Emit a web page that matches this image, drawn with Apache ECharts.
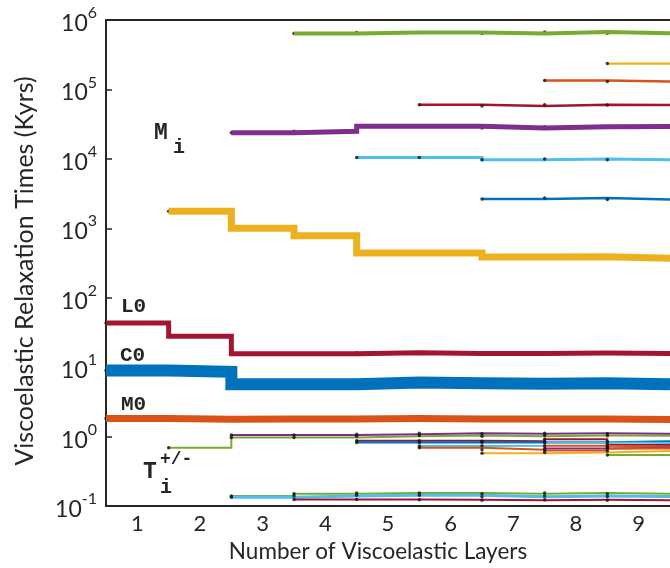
<!DOCTYPE html>
<html>
<head>
<meta charset="utf-8">
<script src="https://cdn.jsdelivr.net/npm/echarts@6/dist/echarts.min.js"></script>
<style>
html,body{margin:0;padding:0;background:#fff;}
#main{width:670px;height:568px;}
</style>
</head>
<body>
<div id="main"></div>
<script>
// ---------------- DATA ----------------
const xTicks = [1, 2, 3, 4, 5, 6, 7, 8, 9];
const yTicks = [0.1, 1, 10, 100, 1000, 10000, 100000, 1000000];

// values per number of layers, starting at the given layer
const L0_start = 1;  const L0  = [43.5, 28, 15.6, 15.6, 16.2, 15.8, 15.8, 16.0, 15.8];
const C0_start = 1;  const C0  = [9.0, 8.6, 5.7, 5.7, 6.0, 5.9, 5.8, 5.9, 5.7];
const M0_start = 1;  const M0  = [1.82, 1.78, 1.80, 1.80, 1.82, 1.80, 1.80, 1.79, 1.76];

const Mi1_start = 2; const Mi1 = [1760, 1000, 780, 440, 440, 385, 390, 370];
const Mi2_start = 3; const Mi2 = [23800, 25000, 29400, 29400, 27900, 29000, 29200];
const Mi3_start = 4; const Mi3 = [637000, 658000, 658000, 637000, 673000, 644000];
const Mi4_start = 5; const Mi4 = [10470, 10470, 9700, 10000, 9700];
const Mi5_start = 6; const Mi5 = [60300, 57800, 60300, 59700];
const Mi6_start = 7; const Mi6 = [2640, 2730, 2600];
const Mi7_start = 8; const Mi7 = [134600, 130000];
const Mi8_start = 9; const Mi8 = [236000];

const T1_start = 2;  const T1  = [0.69, 0.975, 0.975, 1.01, 1.04, 1.01, 1.04, 1.03];
const T2_start = 3;  const T2  = [1.06, 1.06, 1.08, 1.12, 1.10, 1.12, 1.10];
const T3_start = 5;  const T3  = [0.873, 0.873, 0.86, 0.92, 0.76];
const T4_start = 5;  const T4  = [0.826, 0.826, 0.83, 0.83, 0.853];
const T5_start = 6;  const T5  = [0.731, 0.741, 0.826, 0.807];
const T6_start = 6;  const T6  = [0.693, 0.649, 0.741, 0.723];
const T7_start = 7;  const T7  = [0.579, 0.593, 0.62];
const T8_start = 8;  const T8  = [0.678, 0.69];
const T9_start = 8;  const T9  = [0.634, 0.678];
const T10_start = 9; const T10 = [0.543];

const B1_start = 3;  const B1  = [0.140, 0.150, 0.155, 0.155, 0.150, 0.155, 0.150];
const B2_start = 3;  const B2  = [0.134, 0.140, 0.143, 0.143, 0.136, 0.140, 0.138];
const B3_start = 4;  const B3  = [0.1245, 0.1245, 0.123, 0.121, 0.1235, 0.121];

// ---------------- STYLE ----------------
const COL = {blue:'#0072BD', orange:'#D95319', yellow:'#EDB120', purple:'#7E2F8E',
             green:'#77AC30', cyan:'#4DBEEE', crimson:'#A2142F'};
const TXT = '#262626';

// [start, values, color, width, thick]
const lines = [
  [T1_start, T1, COL.green, 2, false],
  [T2_start, T2, COL.purple, 2, false],
  [T3_start, T3, COL.crimson, 2, false],
  [T4_start, T4, COL.blue, 2.2, false],
  [T5_start, T5, COL.cyan, 2, false],
  [T6_start, T6, COL.orange, 2, false],
  [T7_start, T7, COL.yellow, 2, false],
  [T8_start, T8, COL.purple, 2, false],
  [T9_start, T9, COL.orange, 2, false],
  [T10_start, T10, COL.green, 2, false],
  [B1_start, B1, COL.green, 2, false],
  [B2_start, B2, COL.cyan, 3, false],
  [B3_start, B3, COL.crimson, 2, false],
  [Mi4_start, Mi4, COL.cyan, 3, false],
  [Mi5_start, Mi5, COL.crimson, 2.5, false],
  [Mi6_start, Mi6, COL.blue, 2.5, false],
  [Mi7_start, Mi7, COL.orange, 2.5, false],
  [Mi8_start, Mi8, COL.yellow, 2.2, false],
  [Mi3_start, Mi3, COL.green, 4, true],
  [Mi2_start, Mi2, COL.purple, 5, true],
  [Mi1_start, Mi1, COL.yellow, 7, true],
  [L0_start, L0, COL.crimson, 5, true],
  [M0_start, M0, COL.orange, 7, true],
  [C0_start, C0, COL.blue, 12, true]
];

// each layer value spans from (layer - 0.5) to (layer + 0.5)
function stepData(start, vals) {
  const pts = [];
  vals.forEach((v, i) => {
    const layer = start + i;
    pts.push([layer - 0.5, v], [layer + 0.5, v]);
  });
  return pts;
}

const series = [];
const dots = [];
lines.forEach((l) => {
  const [start, vals, color, width, thick] = l;
  series.push({
    type: 'line', data: stepData(start, vals),
    showSymbol: false, symbol: 'none', silent: true, animation: false,
    z: thick ? 4 : 2, smooth: false,
    lineStyle: {color: color, width: width, cap: 'butt', join: 'miter', miterLimit: 20}
  });
  vals.forEach((v, i) => dots.push([start + i - 0.5, v]));
});
series.push({
  type: 'scatter', data: dots, symbol: 'circle', symbolSize: 3.5,
  itemStyle: {color: '#111'}, z: 3, silent: true, animation: false
});

const FONT = 'Lato';
const MONO = '"Liberation Mono", "DejaVu Sans Mono", monospace';

const chart = echarts.init(document.getElementById('main'), null, {renderer: 'canvas'});
chart.setOption({
  backgroundColor: '#fff',
  animation: false,
  grid: {left: 106, right: 0, top: 20, bottom: 60, containLabel: false},
  xAxis: [{
    type: 'value', min: 0.5, max: 9.5, minInterval: 1, maxInterval: 1,
    name: 'Number of Viscoelastic Layers', nameLocation: 'middle', nameGap: 27,
    nameTextStyle: {fontFamily: FONT, fontSize: 22.5, color: TXT, padding: [0, 20, 0, 0]},
    axisLine: {show: true, onZero: false, lineStyle: {color: TXT, width: 2}},
    axisTick: {show: false},
    axisLabel: {fontFamily: FONT, fontSize: 22, color: TXT, margin: 7,
                showMinLabel: false, showMaxLabel: false,
                formatter: v => (xTicks.indexOf(Math.round(v)) >= 0 && Math.abs(v - Math.round(v)) < 1e-6) ? String(Math.round(v)) : ''},
    splitLine: {show: false}
  }, {
    type: 'value', position: 'top', min: 0.5, max: 9.5,
    axisLine: {show: true, onZero: false, lineStyle: {color: TXT, width: 2}},
    axisTick: {show: false}, axisLabel: {show: false}, splitLine: {show: false}
  }],
  yAxis: {
    type: 'log', logBase: 10, min: yTicks[0], max: yTicks[yTicks.length - 1],
    axisLine: {show: true, onZero: false, lineStyle: {color: TXT, width: 2}},
    axisTick: {show: true, inside: true, length: 6, lineStyle: {color: TXT, width: 1.5}},
    minorTick: {show: false},
    splitLine: {show: false},
    axisLabel: {
      margin: 9, color: TXT,
      formatter: v => '{b|10}{s|' + Math.round(Math.log10(v)) + '}',
      rich: {
        b: {fontFamily: FONT, fontSize: 23, color: TXT, lineHeight: 30, verticalAlign: 'bottom'},
        s: {fontFamily: FONT, fontSize: 16, color: TXT, lineHeight: 16, verticalAlign: 'top'}
      }
    }
  },
  series: series,
  graphic: [
    {type: 'text', x: 25, y: 271, rotation: Math.PI / 2,
     style: {text: 'Viscoelastic Relaxation Times (Kyrs)', font: '25px ' + FONT, fill: TXT,
             textAlign: 'center', textVerticalAlign: 'middle'}},
    {type: 'text', x: 121, y: 307, style: {text: 'L0', font: 'bold 21px ' + MONO, fill: TXT, textVerticalAlign: 'middle'}},
    {type: 'text', x: 120, y: 356, style: {text: 'C0', font: 'bold 21px ' + MONO, fill: TXT, textVerticalAlign: 'middle'}},
    {type: 'text', x: 121, y: 405, style: {text: 'M0', font: 'bold 21px ' + MONO, fill: TXT, textVerticalAlign: 'middle'}},
    {type: 'text', x: 154, y: 133, style: {text: 'M', font: 'bold 23px ' + MONO, fill: TXT, textVerticalAlign: 'middle'}},
    {type: 'text', x: 173, y: 148, style: {text: 'i', font: 'bold 20px ' + MONO, fill: TXT, textVerticalAlign: 'middle'}},
    {type: 'text', x: 143, y: 472, style: {text: 'T', font: 'bold 23px ' + MONO, fill: TXT, textVerticalAlign: 'middle'}},
    {type: 'text', x: 160, y: 459, style: {text: '+/-', font: 'bold 18px ' + MONO, fill: TXT, textVerticalAlign: 'middle'}},
    {type: 'text', x: 160, y: 488, style: {text: 'i', font: 'bold 20px ' + MONO, fill: TXT, textVerticalAlign: 'middle'}}
  ]
});
</script>
</body>
</html>
